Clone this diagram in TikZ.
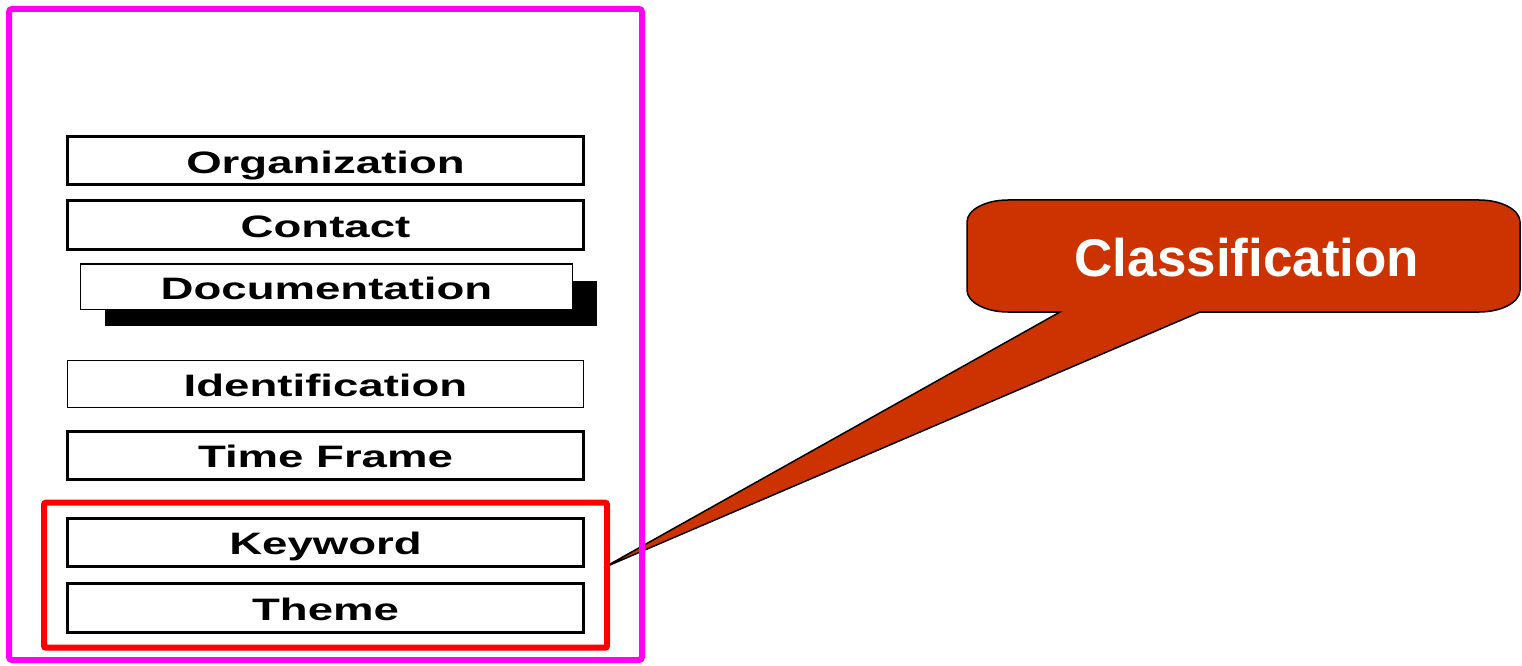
\documentclass[tikz,border=0pt]{standalone}
\usepackage{fontspec}
\setmainfont{Liberation Sans}
\newfontfamily\boxfont{Liberation Sans}[FakeStretch=1.47]
\usetikzlibrary{positioning,fit,shadows,backgrounds}
\definecolor{rust}{RGB}{204,51,0}
\definecolor{pinkframe}{RGB}{255,0,255}
\definecolor{redframe}{RGB}{255,0,0}

\begin{document}
\begin{tikzpicture}[
x=1pt,y=1pt,
item/.style={
  draw,
  fill=white,
  line width=3pt,
  minimum width=516pt,
  minimum height=48.5pt,
  inner sep=0pt,
  text height=25pt,
  text depth=0pt,
  font=\boxfont\bfseries\fontsize{31}{31}\selectfont
  },
thinitem/.style={
  item,
  line width=1.2pt
  },
group/.style={
  draw=redframe,
  line width=6pt,
  rounded corners=2pt,
  inner xsep=22pt,
  inner ysep=14pt
  },
frame/.style={
  draw=pinkframe,
  line width=6pt,
  rounded corners=3pt
  },
callout/.style={
  fill=rust,
  draw=black,
  line width=1.5pt,
  line join=miter
  }
]
\useasboundingbox (0,0) rectangle (1522,665);
\node[item] (org) at (325.5,504.25) {Organization};
\node[item, below=13pt of org] (con) {Contact};
\node[thinitem, minimum width=492pt, minimum height=45pt,
  drop shadow={shadow xshift=24pt, shadow yshift=-17pt, opacity=1, fill=black},
  below=12.5pt of con, xshift=1pt] (doc) {Documentation};
\node[thinitem, minimum height=46.8pt, below=50pt of doc, xshift=-1pt] (ident) {Identification};
\node[item, below=22pt of ident] (time) {Time Frame};
\node[item, below=35.5pt of time] (kw) {Keyword};
\node[item, below=14pt of kw] (thm) {Theme};
\node[group, fit=(kw)(thm)] (grp) {};
\coordinate (tip) at ([xshift=-6pt,yshift=7.7pt]grp.east);
\node[text=white, font=\bfseries\fontsize{53}{53}\selectfont] (cls) at (1247,407.5) {Classification};
\begin{scope}[on background layer]
\draw[callout] (1060,353) -- (1008,353)
  arc[start angle=270, end angle=180, x radius=41, y radius=22] -- (967,443)
  arc[start angle=180, end angle=90, x radius=41, y radius=22] -- (1479,465)
  arc[start angle=90, end angle=0, x radius=41, y radius=22] -- (1520,375)
  arc[start angle=0, end angle=-90, x radius=41, y radius=22] -- (1200,353)
  -- (tip) -- cycle;
\end{scope}
\draw[frame] (9,5) rectangle (642,656);
\end{tikzpicture}
\end{document}
